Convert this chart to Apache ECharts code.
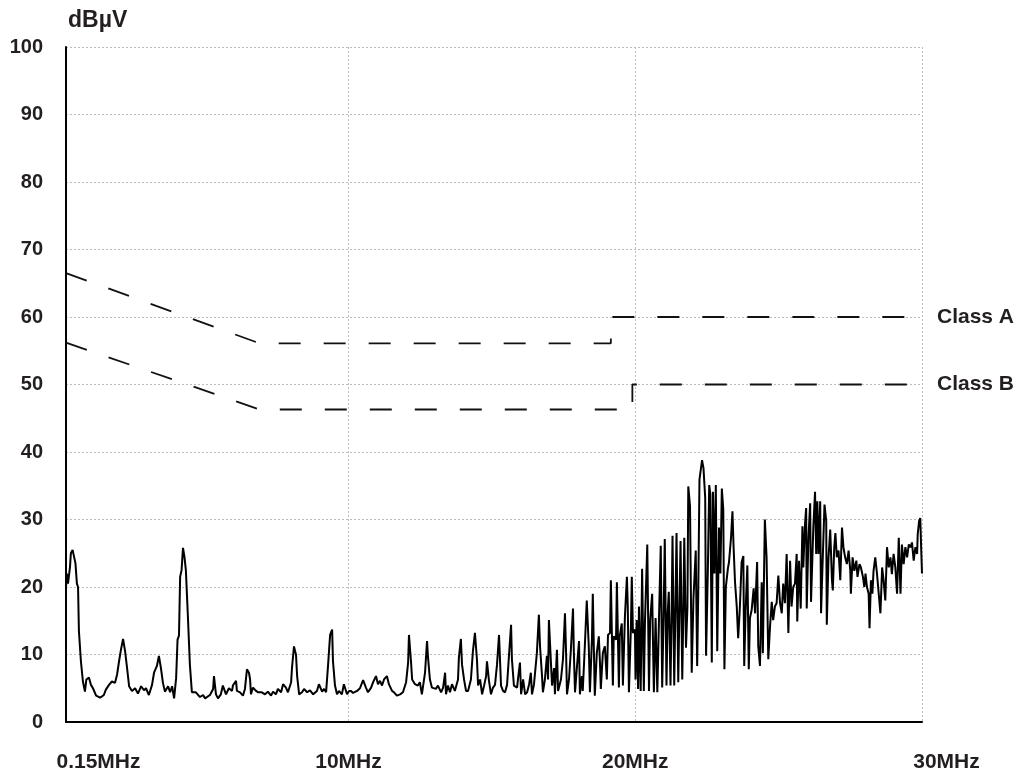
<!DOCTYPE html>
<html>
<head>
<meta charset="utf-8">
<script src="https://cdn.jsdelivr.net/npm/echarts@6/dist/echarts.min.js"></script>
<style>
html,body{margin:0;padding:0;background:#fff;}
#chart{width:1020px;height:775px;}
</style>
</head>
<body>
<div id="chart"></div>
<script>
// ---- data ----
const xTickValues = [0.15, 10, 20, 30];
const xTickLabels = ['0.15MHz', '10MHz', '20MHz', '30MHz'];
const yAxisTitle = 'dBµV';
const classALabel = 'Class A';
const classBLabel = 'Class B';
const classALimit = [[0.15, 66.5], [6.9, 56.1], [19.15, 56.1], [19.15, 60], [30, 60]];
const classBLimit = [[0.15, 56.2], [6.9, 46.3], [19.9, 46.3], [19.9, 50], [30, 50]];
// measured spectrum [MHz, dBµV]
const noiseTrace = [
[0.15,20.0],[0.18,22.0],[0.22,20.5],[0.29,23.0],[0.32,25.0],[0.38,25.5],[0.43,24.5],[0.48,23.5],[0.53,20.5],[0.57,20.0],
[0.60,13.5],[0.67,9.0],[0.74,6.0],[0.81,4.5],[0.86,6.3],[0.95,6.6],[1.02,5.5],[1.09,5.0],[1.20,3.9],[1.34,3.6],
[1.47,4.0],[1.54,4.8],[1.65,5.5],[1.75,6.0],[1.86,5.8],[1.93,7.0],[2.00,9.0],[2.07,10.8],[2.14,12.3],[2.21,10.5],
[2.28,8.0],[2.35,5.3],[2.45,4.6],[2.56,5.0],[2.66,4.2],[2.77,5.3],[2.87,4.7],[2.94,5.0],[3.04,4.0],[3.15,5.5],
[3.22,7.3],[3.32,8.3],[3.39,9.8],[3.46,8.0],[3.53,5.8],[3.60,4.5],[3.71,5.3],[3.78,4.4],[3.85,5.3],[3.92,3.5],
[3.99,6.5],[4.04,12.2],[4.09,12.8],[4.13,21.5],[4.18,22.5],[4.23,25.8],[4.28,24.5],[4.33,22.5],[4.40,15.7],[4.47,8.5],
[4.54,4.4],[4.68,4.4],[4.82,3.7],[4.93,4.0],[5.00,3.5],[5.17,4.0],[5.28,4.9],[5.31,6.8],[5.38,4.1],[5.45,3.5],
[5.55,4.1],[5.62,5.4],[5.73,4.1],[5.83,5.0],[5.94,4.6],[5.97,5.4],[6.08,6.1],[6.11,4.6],[6.22,4.4],[6.32,3.9],
[6.39,4.9],[6.46,7.8],[6.53,7.3],[6.57,6.3],[6.60,4.1],[6.67,5.1],[6.78,4.6],[6.85,4.4],[6.98,4.4],[7.09,4.1],
[7.19,4.5],[7.30,3.9],[7.37,4.5],[7.47,4.1],[7.54,4.9],[7.65,4.4],[7.72,5.6],[7.82,5.1],[7.89,4.4],[8.00,5.9],
[8.03,8.0],[8.10,11.2],[8.14,10.5],[8.17,10.0],[8.21,6.8],[8.28,4.1],[8.38,4.4],[8.45,4.9],[8.56,4.4],[8.66,4.7],
[8.77,4.1],[8.90,4.6],[8.97,5.6],[9.08,4.5],[9.15,4.9],[9.22,4.4],[9.29,8.5],[9.36,12.9],[9.43,13.7],[9.46,9.0],
[9.53,5.4],[9.60,4.1],[9.67,4.6],[9.77,4.1],[9.84,5.6],[9.95,4.1],[10.02,4.6],[10.09,4.6],[10.16,4.3],[10.30,4.6],
[10.40,5.0],[10.51,6.2],[10.61,5.1],[10.68,4.4],[10.79,5.1],[10.86,5.9],[10.96,6.8],[11.03,5.6],[11.10,6.1],[11.17,5.4],
[11.24,6.3],[11.34,6.8],[11.41,5.6],[11.52,4.6],[11.59,4.4],[11.69,3.9],[11.80,4.1],[11.90,4.4],[12.01,5.9],[12.08,8.8],
[12.11,12.9],[12.18,9.0],[12.22,6.3],[12.32,5.6],[12.42,5.4],[12.49,5.9],[12.56,4.1],[12.67,7.3],[12.74,12.0],[12.77,9.8],
[12.84,6.3],[12.91,5.1],[13.05,4.9],[13.12,5.4],[13.23,4.4],[13.30,5.1],[13.37,7.3],[13.40,4.1],[13.47,5.4],[13.54,4.4],
[13.61,5.6],[13.71,4.6],[13.82,6.3],[13.85,9.5],[13.92,12.3],[13.96,8.5],[14.03,6.3],[14.10,4.6],[14.17,4.6],[14.27,6.3],
[14.34,10.5],[14.41,13.2],[14.48,9.3],[14.52,5.4],[14.59,6.3],[14.66,4.1],[14.73,5.4],[14.80,6.8],[14.83,9.0],[14.90,6.1],
[14.97,4.1],[15.04,5.1],[15.11,5.5],[15.18,8.5],[15.25,12.9],[15.32,5.4],[15.39,4.6],[15.46,4.4],[15.53,5.5],[15.60,10.0],
[15.67,14.4],[15.70,9.3],[15.77,5.4],[15.88,5.1],[15.91,6.3],[15.98,8.8],[16.02,4.1],[16.09,6.3],[16.16,4.1],[16.23,4.4],
[16.30,5.6],[16.36,7.3],[16.40,4.1],[16.47,5.6],[16.57,10.2],[16.64,15.9],[16.68,11.2],[16.75,6.8],[16.78,4.4],[16.85,6.3],
[16.92,9.8],[16.96,6.3],[16.99,15.1],[17.06,8.8],[17.10,5.4],[17.17,8.0],[17.20,4.1],[17.27,10.7],[17.31,4.6],[17.41,6.3],
[17.48,9.3],[17.55,16.1],[17.59,10.0],[17.62,4.1],[17.69,6.3],[17.76,11.0],[17.83,16.8],[17.86,10.2],[17.90,4.4],[17.97,8.3],
[18.04,12.0],[18.07,4.1],[18.14,6.8],[18.17,4.6],[18.24,11.0],[18.31,18.0],[18.38,11.2],[18.42,4.4],[18.49,12.2],[18.52,19.0],
[18.59,3.9],[18.66,10.2],[18.73,12.7],[18.77,8.8],[18.80,4.9],[18.87,10.2],[18.94,11.2],[19.01,6.3],[19.05,12.9],[19.12,13.2],
[19.15,21.0],[19.22,5.4],[19.25,12.7],[19.33,12.2],[19.36,20.7],[19.43,5.1],[19.46,12.7],[19.53,14.6],[19.57,5.4],[19.64,15.6],
[19.71,21.5],[19.74,17.1],[19.78,4.4],[19.85,14.1],[19.88,21.5],[19.92,13.2],[19.99,13.7],[20.01,6.3],[20.05,15.1],[20.10,4.9],
[20.13,17.1],[20.19,4.6],[20.24,22.7],[20.30,4.6],[20.34,15.0],[20.42,26.3],[20.48,4.6],[20.52,15.0],[20.59,19.0],[20.65,4.4],
[20.71,15.4],[20.77,4.4],[20.83,15.5],[20.89,26.1],[20.94,5.1],[20.99,16.0],[21.03,27.1],[21.09,5.4],[21.13,16.0],[21.17,19.3],
[21.23,5.4],[21.27,16.3],[21.30,27.6],[21.36,5.4],[21.40,16.5],[21.44,28.0],[21.50,5.9],[21.54,16.5],[21.58,26.8],[21.64,6.3],
[21.68,17.0],[21.71,27.3],[21.77,11.0],[21.82,17.0],[21.85,34.9],[21.91,32.0],[21.97,7.3],[22.03,18.3],[22.11,25.4],[22.16,8.3],
[22.20,20.0],[22.24,35.9],[22.29,36.0],[22.33,38.8],[22.38,37.6],[22.44,33.2],[22.47,9.8],[22.53,22.0],[22.58,35.1],[22.62,33.7],
[22.67,8.8],[22.71,34.1],[22.76,22.0],[22.81,35.1],[22.86,10.5],[22.92,28.8],[22.97,22.0],[23.02,34.6],[23.07,31.5],[23.11,7.8],
[23.16,20.0],[23.23,22.7],[23.27,23.7],[23.34,27.3],[23.39,31.2],[23.43,25.9],[23.48,20.7],[23.54,17.1],[23.59,12.4],[23.65,17.1],
[23.71,23.7],[23.77,24.6],[23.80,8.3],[23.85,16.6],[23.91,23.2],[23.96,7.8],[24.00,15.4],[24.06,16.6],[24.13,19.8],[24.18,16.1],
[24.25,23.7],[24.29,11.2],[24.35,8.3],[24.41,20.7],[24.45,10.2],[24.52,30.0],[24.58,24.4],[24.64,9.3],[24.70,14.1],[24.76,17.8],
[24.81,15.1],[24.87,17.1],[24.93,17.6],[24.99,21.7],[25.05,17.6],[25.11,16.1],[25.16,20.5],[25.22,17.6],[25.28,24.9],[25.34,13.2],
[25.40,23.9],[25.45,17.1],[25.51,20.0],[25.57,20.5],[25.63,24.9],[25.65,14.9],[25.71,23.9],[25.77,16.8],[25.83,29.0],[25.86,22.9],
[25.92,29.3],[25.96,31.7],[25.98,16.8],[26.04,27.3],[26.10,32.4],[26.13,17.8],[26.21,28.8],[26.27,34.1],[26.31,24.9],[26.35,32.7],
[26.39,24.9],[26.45,32.7],[26.48,16.1],[26.54,24.4],[26.60,32.2],[26.66,29.8],[26.68,14.4],[26.74,24.4],[26.80,28.5],[26.86,21.0],
[26.89,19.5],[26.94,25.9],[26.98,28.0],[27.03,24.4],[27.09,25.4],[27.15,21.0],[27.21,28.8],[27.26,25.9],[27.32,24.4],[27.38,23.4],
[27.44,25.4],[27.50,22.4],[27.52,19.0],[27.58,24.4],[27.64,22.4],[27.71,23.9],[27.75,21.5],[27.82,23.4],[27.87,22.9],[27.94,21.5],
[27.99,20.0],[28.03,22.0],[28.08,20.0],[28.14,19.0],[28.17,13.9],[28.22,21.0],[28.27,19.0],[28.31,22.4],[28.37,24.4],[28.43,22.0],
[28.49,22.0],[28.55,16.1],[28.61,22.9],[28.66,21.0],[28.72,18.0],[28.78,25.9],[28.84,22.9],[28.90,24.4],[28.95,21.9],[29.01,24.9],
[29.07,22.9],[29.13,19.0],[29.19,27.3],[29.25,19.0],[29.30,26.3],[29.36,23.4],[29.42,25.9],[29.48,24.4],[29.54,26.3],[29.60,25.9],
[29.65,26.6],[29.71,23.9],[29.77,25.9],[29.83,24.9],[29.85,27.8],[29.90,29.8],[29.94,30.2],[29.97,25.9],[30.00,22.0]
];

// ---- chart ----
const FONT = '"Liberation Sans", Arial, Helvetica, sans-serif';
const TXT = '#231f20';
const chart = echarts.init(document.getElementById('chart'), null, {renderer: 'canvas'});
const labelRich = {
  first: {fontFamily: FONT, fontSize: 21, fontWeight: 'bold', color: TXT, padding: [0, 0, 0, 65]},
  mid:   {fontFamily: FONT, fontSize: 21, fontWeight: 'bold', color: TXT},
  last:  {fontFamily: FONT, fontSize: 21, fontWeight: 'bold', color: TXT, padding: [0, 0, 0, 49]}
};
const limitLabel = (txt) => ({
  show: true, formatter: txt, distance: 15,
  fontFamily: FONT, fontSize: 21, fontWeight: 'bold', color: TXT
});
chart.setOption({
  animation: false,
  backgroundColor: '#fff',
  grid: {left: 66, right: 98, top: 47, bottom: 53, containLabel: false},
  xAxis: {
    type: 'value', min: 0.15, max: 30,
    axisLine: {show: true, onZero: false, lineStyle: {color: '#000', width: 2}},
    axisTick: {show: false, customValues: xTickValues},
    axisLabel: {
      customValues: xTickValues, margin: 30,
      formatter: function (v) {
        const i = xTickValues.indexOf(v);
        const t = i >= 0 ? xTickLabels[i] : '';
        if (i === 0) return '{first|' + t + '}';
        if (i === xTickValues.length - 1) return '{last|' + t + '}';
        return '{mid|' + t + '}';
      },
      rich: labelRich
    },
    splitLine: {show: true, lineStyle: {color: '#bdbdbd', type: [2, 2], width: 1}}
  },
  yAxis: {
    type: 'value', min: 0, max: 100, interval: 10,
    name: yAxisTitle, nameLocation: 'end', nameGap: 26,
    nameTextStyle: {fontFamily: FONT, fontSize: 23, fontWeight: 'bold', color: TXT, align: 'left', verticalAlign: 'middle', padding: [0, 0, 0, 2]},
    axisLine: {show: true, lineStyle: {color: '#000', width: 2}},
    axisTick: {show: false},
    axisLabel: {fontFamily: FONT, fontSize: 20, fontWeight: 'bold', color: TXT, margin: 23},
    splitLine: {show: true, lineStyle: {color: '#bdbdbd', type: [2, 2], width: 1}}
  },
  series: [
    {
      type: 'line', data: classALimit, symbol: 'none', silent: true,
      lineStyle: {color: '#111', width: 1.8, type: [22, 23]},
      endLabel: limitLabel(classALabel)
    },
    {
      type: 'line', data: classBLimit, symbol: 'none', silent: true,
      lineStyle: {color: '#111', width: 1.8, type: [22, 23]},
      endLabel: limitLabel(classBLabel)
    },
    {
      type: 'line', data: noiseTrace, symbol: 'none', silent: true,
      lineStyle: {color: '#000', width: 2}
    }
  ]
});
</script>
</body>
</html>
